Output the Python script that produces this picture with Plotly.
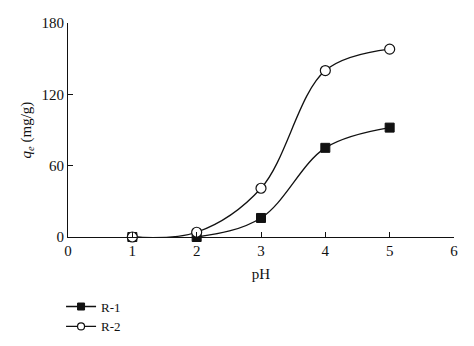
import plotly.graph_objects as go

# Equilibrium adsorption capacity vs pH
ph = [1, 2, 3, 4, 5]
qe_r1 = [0, 0, 16, 75, 92]
qe_r2 = [0, 4, 41, 140, 158]

x_ticks = [0, 1, 2, 3, 4, 5, 6]
y_ticks = [0, 60, 120, 180]

font_family = "Liberation Serif, Times New Roman, serif"
ink = "#111111"

series = [
    ("R-1", qe_r1, dict(symbol="square", color=ink, line=dict(color=ink, width=1))),
    ("R-2", qe_r2, dict(symbol="circle", color="white", line=dict(color=ink, width=1.2))),
]

fig = go.Figure()
for name, vals, mk in series:
    # data curve
    fig.add_trace(go.Scatter(
        x=ph, y=vals, name=name, mode="lines+markers", showlegend=False,
        line=dict(color=ink, width=1.3, shape="spline", smoothing=1.0),
        marker=dict(size=9 if mk["symbol"] == "square" else 10, **mk),
        cliponaxis=False,
    ))
for name, vals, mk in series:
    # compact legend key
    fig.add_trace(go.Scatter(
        x=[None], y=[None], name=name, mode="lines+markers",
        line=dict(color=ink, width=1.3),
        marker=dict(size=7, **mk),
    ))

fig.update_layout(
    width=474, height=346,
    margin=dict(l=68, r=20, t=23, b=109, autoexpand=False),
    paper_bgcolor="white", plot_bgcolor="white",
    font=dict(family=font_family, size=15, color=ink),
    showlegend=True,
    legend=dict(
        x=-0.018, y=-0.255, xanchor="left", yanchor="top",
        bgcolor="rgba(0,0,0,0)", borderwidth=0,
        font=dict(family=font_family, size=13, color=ink),
        tracegroupgap=0, itemwidth=30,
    ),
    xaxis=dict(
        range=[0, 6], tickvals=x_ticks, ticks="inside", ticklen=5, tickwidth=1,
        tickcolor=ink, showline=True, linecolor=ink, linewidth=1.2,
        showgrid=False, zeroline=False,
        tickfont=dict(family=font_family, size=15, color=ink),
        title=dict(text="pH", standoff=10, font=dict(family=font_family, size=15, color=ink)),
    ),
    yaxis=dict(
        range=[0, 180], tickvals=y_ticks, ticks="inside", ticklen=5, tickwidth=1,
        tickcolor=ink, showline=True, linecolor=ink, linewidth=1.2,
        showgrid=False, zeroline=False,
        tickfont=dict(family=font_family, size=15, color=ink),
        title=dict(text="<i>q<sub>e</sub></i> (mg/g)", standoff=6,
                   font=dict(family=font_family, size=15, color=ink)),
    ),
)

fig.write_html("out.html")
